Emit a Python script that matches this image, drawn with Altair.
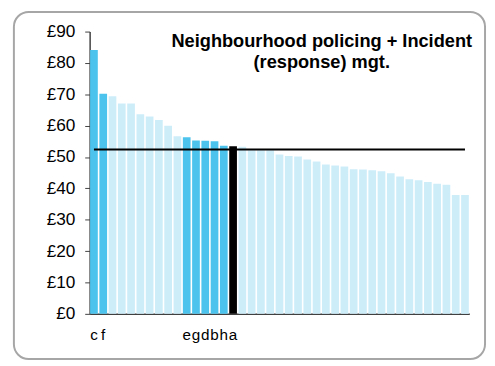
import altair as alt
import pandas as pd

values = [84.1, 70.2, 69.4, 67.1, 67.1, 63.6, 62.9, 61.8, 60.0, 56.6,
          56.3, 55.3, 55.2, 55.0, 53.6, 53.4,
          53.3, 52.2, 52.2, 52.2, 50.8, 50.3, 50.2, 49.2, 48.6, 47.6,
          47.3, 47.0, 46.1, 46.0, 45.8, 45.5, 44.8, 43.8, 42.9, 42.6,
          42.0, 41.5, 41.2, 37.9, 37.9]
labels = ["c", "f", "", "", "", "", "", "", "", "",
          "e", "g", "d", "b", "h", "a"] + [""] * 25
groups = ["hi", "hi", "lo", "lo", "lo", "lo", "lo", "lo", "lo", "lo",
          "hi", "hi", "hi", "hi", "hi", "sel"] + ["lo"] * 25
average = 52.4
title_lines = ["Neighbourhood policing + Incident", "(response) mgt."]
y_ticks = [0, 10, 20, 30, 40, 50, 60, 70, 80, 90]

df = pd.DataFrame({
    "idx": list(range(len(values))),
    "value": values,
    "label": labels,
    "group": groups,
    "avg": [average] * len(values),
})

label_expr = "[" + ",".join("'" + l + "'" for l in labels) + "][datum.value]"

x_scale = alt.Scale(paddingInner=0.17, paddingOuter=0.05)
x_axis = alt.Axis(title=None, labelExpr=label_expr, labelAngle=0, ticks=False,
                  labelFontSize=15.5, labelFont="Liberation Sans", labelColor="#000000",
                  labelPadding=14, domainColor="#404040", domainWidth=1.5,
                  labelOverlap=False)
y_scale = alt.Scale(domain=[0, 90], nice=False)
y_axis = alt.Axis(title=None, values=y_ticks, tickCount=10, labelExpr="'£' + datum.value",
                  grid=False, tickSize=5, labelPadding=10, labelFontSize=17.5,
                  labelFont="Liberation Sans", labelColor="#000000",
                  labelOverlap=False, labelBound=False, labelFlush=False,
                  domainColor="#404040", tickColor="#404040", domainWidth=1.5)

bars = alt.Chart(df).mark_bar().encode(
    x=alt.X("idx:O", scale=x_scale, axis=x_axis),
    y=alt.Y("value:Q", scale=y_scale, axis=y_axis),
    color=alt.Color("group:N", scale=alt.Scale(domain=["hi", "lo", "sel"],
                                               range=["#4BC3EC", "#CDEDF9", "#000000"]),
                    legend=None),
)

line = alt.Chart(df).mark_line(color="#000000", strokeWidth=2.2).encode(
    x=alt.X("idx:O", scale=x_scale, axis=x_axis),
    y=alt.Y("avg:Q", scale=y_scale, axis=y_axis),
)

title = alt.Chart(pd.DataFrame({"t": [0]})).mark_text(
    font="Liberation Sans", fontSize=18.5, fontWeight="bold", align="center",
    baseline="top", lineHeight=21, color="#000000",
).encode(
    x=alt.value(236), y=alt.value(1), text=alt.value(title_lines)
)

frame = alt.Chart(pd.DataFrame({"t": [0]})).mark_rect(
    fill="white", fillOpacity=0, stroke="#A6A6A6", strokeWidth=2, cornerRadius=15,
).encode(
    x=alt.value(-77), x2=alt.value(402), y=alt.value(-20), y2=alt.value(333)
)

chart = alt.layer(bars, line, title, frame).properties(
    width=386, height=287,
    autosize=alt.AutoSizeParams(type="none"),
    padding={"left": 83, "top": 21, "right": 18, "bottom": 47},
).configure_view(stroke=None)

chart.save("out.html", embed_options={"renderer": "svg", "actions": False})
